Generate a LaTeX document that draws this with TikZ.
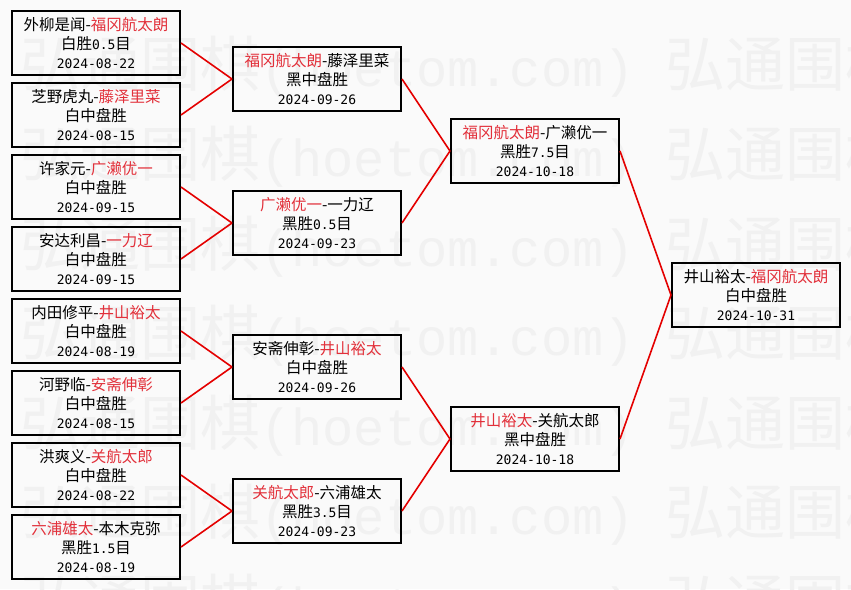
\documentclass[tikz,border=0pt]{standalone}
\usepackage{fontspec}
\setmainfont{Noto Sans CJK SC}
\newfontfamily\datefont{DejaVu Sans Mono}
\newfontfamily\markfont{Liberation Mono}
\usepackage{tikz}
\usetikzlibrary{positioning}
\definecolor{winred}{RGB}{226,48,58}
\definecolor{linkred}{RGB}{228,0,0}
\definecolor{paper}{RGB}{250,250,250}
\definecolor{wmgray}{RGB}{241,241,241}
\newcommand{\win}[1]{\textcolor{winred}{#1}}
\newcommand{\dt}[1]{{\datefont\fontsize{13}{19}\selectfont #1}}

\begin{document}
\begin{tikzpicture}[x=1pt,y=-1pt,
    game/.style={draw=black, line width=2pt, minimum width=168pt, minimum height=64pt,
                 inner sep=0pt, align=center, font=\fontsize{15.5}{19}\selectfont},
    link/.style={draw=linkred, line width=1.6pt},
    wmark/.style={text=wmgray, anchor=west, inner sep=0pt, font=\fontsize{60}{60}\selectfont}]
    % Page and watermark
    \fill[paper] (0,0) rectangle (851,589);
    \useasboundingbox (0,0) rectangle (851,589);
    \foreach \k in {0,...,6} {
        \node[wmark] (wm\k) at (20,67+89.6*\k) {弘通围棋{\markfont\fontsize{52}{60}\selectfont(hoetom.com) }弘通围棋};
    }
    % First round (left column)
    \node[game] (r1a) at (96,43)  {外柳是闻-\win{福冈航太朗}\\白胜\dt{0.5}目\\\dt{2024-08-22}};
    \node[game] (r1b) at (96,115) {芝野虎丸-\win{藤泽里菜}\\白中盘胜\\\dt{2024-08-15}};
    \node[game] (r1c) at (96,187) {许家元-\win{广濑优一}\\白中盘胜\\\dt{2024-09-15}};
    \node[game] (r1d) at (96,259) {安达利昌-\win{一力辽}\\白中盘胜\\\dt{2024-09-15}};
    \node[game] (r1e) at (96,331) {内田修平-\win{井山裕太}\\白中盘胜\\\dt{2024-08-19}};
    \node[game] (r1f) at (96,403) {河野临-\win{安斋伸彰}\\白中盘胜\\\dt{2024-08-15}};
    \node[game] (r1g) at (96,475) {洪爽义-\win{关航太郎}\\白中盘胜\\\dt{2024-08-22}};
    \node[game] (r1h) at (96,547) {\win{六浦雄太}-本木克弥\\黑胜\dt{1.5}目\\\dt{2024-08-19}};
    % Second round
    \node[game] (r2a) at (317,79)  {\win{福冈航太朗}-藤泽里菜\\黑中盘胜\\\dt{2024-09-26}};
    \node[game] (r2b) at (317,223) {\win{广濑优一}-一力辽\\黑胜\dt{0.5}目\\\dt{2024-09-23}};
    \node[game] (r2c) at (317,367) {安斋伸彰-\win{井山裕太}\\白中盘胜\\\dt{2024-09-26}};
    \node[game] (r2d) at (317,511) {\win{关航太郎}-六浦雄太\\黑胜\dt{3.5}目\\\dt{2024-09-23}};
    % Semi-finals
    \node[game] (r3a) at (535,151) {\win{福冈航太朗}-广濑优一\\黑胜\dt{7.5}目\\\dt{2024-10-18}};
    \node[game] (r3b) at (535,439) {\win{井山裕太}-关航太郎\\黑中盘胜\\\dt{2024-10-18}};
    % Final
    \node[game] (fin) at (756,295) {井山裕太-\win{福冈航太朗}\\白中盘胜\\\dt{2024-10-31}};
    % Bracket lines
    \foreach \a/\b in {r1a/r2a, r1b/r2a, r1c/r2b, r1d/r2b, r1e/r2c, r1f/r2c, r1g/r2d, r1h/r2d,
                       r2a/r3a, r2b/r3a, r2c/r3b, r2d/r3b, r3a/fin, r3b/fin} {
        \draw[link] (\a.east) -- (\b.west);
    }
\end{tikzpicture}
\end{document}
